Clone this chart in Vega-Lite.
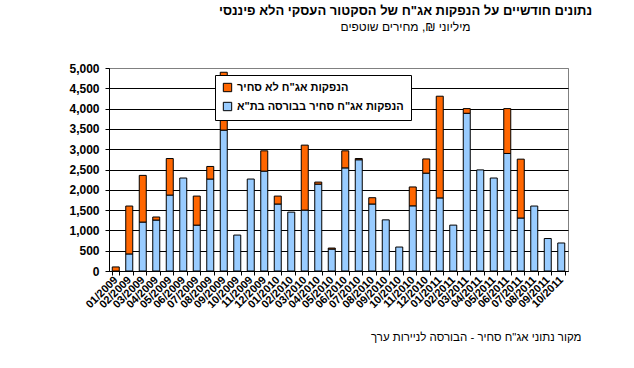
{
  "$schema": "https://vega.github.io/schema/vega-lite/v6.json",
  "width": 459,
  "height": 203,
  "autosize": {"type": "none"},
  "padding": {"left": 109, "top": 68, "right": 66, "bottom": 97},
  "background": "white",
  "title": {
    "text": "נתונים חודשיים על הנפקות אג\"ח של הסקטור העסקי הלא פיננסי",
    "subtitle": "מיליוני ₪, מחירים שוטפים",
    "anchor": "middle",
    "frame": "group",
    "dx": 67,
    "offset": 29,
    "font": "Liberation Sans",
    "fontSize": 13,
    "fontWeight": "bold",
    "color": "black",
    "subtitleFont": "Liberation Sans",
    "subtitleFontSize": 12,
    "subtitleColor": "black",
    "subtitlePadding": 4
  },
  "data": {
    "values": [
      {"month": "01/2009", "series": "הנפקות אג\"ח לא סחיר", "value": 100},
      {"month": "02/2009", "series": "הנפקות אג\"ח סחיר בבורסה בת\"א", "value": 420},
      {"month": "02/2009", "series": "הנפקות אג\"ח לא סחיר", "value": 1180},
      {"month": "03/2009", "series": "הנפקות אג\"ח סחיר בבורסה בת\"א", "value": 1205},
      {"month": "03/2009", "series": "הנפקות אג\"ח לא סחיר", "value": 1150},
      {"month": "04/2009", "series": "הנפקות אג\"ח סחיר בבורסה בת\"א", "value": 1255},
      {"month": "04/2009", "series": "הנפקות אג\"ח לא סחיר", "value": 75},
      {"month": "05/2009", "series": "הנפקות אג\"ח סחיר בבורסה בת\"א", "value": 1870},
      {"month": "05/2009", "series": "הנפקות אג\"ח לא סחיר", "value": 900},
      {"month": "06/2009", "series": "הנפקות אג\"ח סחיר בבורסה בת\"א", "value": 2290},
      {"month": "07/2009", "series": "הנפקות אג\"ח סחיר בבורסה בת\"א", "value": 1130},
      {"month": "07/2009", "series": "הנפקות אג\"ח לא סחיר", "value": 715},
      {"month": "08/2009", "series": "הנפקות אג\"ח סחיר בבורסה בת\"א", "value": 2265},
      {"month": "08/2009", "series": "הנפקות אג\"ח לא סחיר", "value": 310},
      {"month": "09/2009", "series": "הנפקות אג\"ח סחיר בבורסה בת\"א", "value": 3470},
      {"month": "09/2009", "series": "הנפקות אג\"ח לא סחיר", "value": 1425},
      {"month": "10/2009", "series": "הנפקות אג\"ח סחיר בבורסה בת\"א", "value": 885},
      {"month": "11/2009", "series": "הנפקות אג\"ח סחיר בבורסה בת\"א", "value": 2265},
      {"month": "12/2009", "series": "הנפקות אג\"ח סחיר בבורסה בת\"א", "value": 2460},
      {"month": "12/2009", "series": "הנפקות אג\"ח לא סחיר", "value": 500},
      {"month": "01/2010", "series": "הנפקות אג\"ח סחיר בבורסה בת\"א", "value": 1650},
      {"month": "01/2010", "series": "הנפקות אג\"ח לא סחיר", "value": 195},
      {"month": "02/2010", "series": "הנפקות אג\"ח סחיר בבורסה בת\"א", "value": 1450},
      {"month": "03/2010", "series": "הנפקות אג\"ח סחיר בבורסה בת\"א", "value": 1500},
      {"month": "03/2010", "series": "הנפקות אג\"ח לא סחיר", "value": 1600},
      {"month": "04/2010", "series": "הנפקות אג\"ח סחיר בבורסה בת\"א", "value": 2140},
      {"month": "04/2010", "series": "הנפקות אג\"ח לא סחיר", "value": 50},
      {"month": "05/2010", "series": "הנפקות אג\"ח סחיר בבורסה בת\"א", "value": 540},
      {"month": "05/2010", "series": "הנפקות אג\"ח לא סחיר", "value": 25},
      {"month": "06/2010", "series": "הנפקות אג\"ח סחיר בבורסה בת\"א", "value": 2540},
      {"month": "06/2010", "series": "הנפקות אג\"ח לא סחיר", "value": 420},
      {"month": "07/2010", "series": "הנפקות אג\"ח סחיר בבורסה בת\"א", "value": 2740},
      {"month": "07/2010", "series": "הנפקות אג\"ח לא סחיר", "value": 30},
      {"month": "08/2010", "series": "הנפקות אג\"ח סחיר בבורסה בת\"א", "value": 1650},
      {"month": "08/2010", "series": "הנפקות אג\"ח לא סחיר", "value": 155},
      {"month": "09/2010", "series": "הנפקות אג\"ח סחיר בבורסה בת\"א", "value": 1260},
      {"month": "10/2010", "series": "הנפקות אג\"ח סחיר בבורסה בת\"א", "value": 590},
      {"month": "11/2010", "series": "הנפקות אג\"ח סחיר בבורסה בת\"א", "value": 1605},
      {"month": "11/2010", "series": "הנפקות אג\"ח לא סחיר", "value": 465},
      {"month": "12/2010", "series": "הנפקות אג\"ח סחיר בבורסה בת\"א", "value": 2410},
      {"month": "12/2010", "series": "הנפקות אג\"ח לא סחיר", "value": 350},
      {"month": "01/2011", "series": "הנפקות אג\"ח סחיר בבורסה בת\"א", "value": 1800},
      {"month": "01/2011", "series": "הנפקות אג\"ח לא סחיר", "value": 2505},
      {"month": "02/2011", "series": "הנפקות אג\"ח סחיר בבורסה בת\"א", "value": 1130},
      {"month": "03/2011", "series": "הנפקות אג\"ח סחיר בבורסה בת\"א", "value": 3885},
      {"month": "03/2011", "series": "הנפקות אג\"ח לא סחיר", "value": 115},
      {"month": "04/2011", "series": "הנפקות אג\"ח סחיר בבורסה בת\"א", "value": 2490},
      {"month": "05/2011", "series": "הנפקות אג\"ח סחיר בבורסה בת\"א", "value": 2290},
      {"month": "06/2011", "series": "הנפקות אג\"ח סחיר בבורסה בת\"א", "value": 2895},
      {"month": "06/2011", "series": "הנפקות אג\"ח לא סחיר", "value": 1105},
      {"month": "07/2011", "series": "הנפקות אג\"ח סחיר בבורסה בת\"א", "value": 1305},
      {"month": "07/2011", "series": "הנפקות אג\"ח לא סחיר", "value": 1450},
      {"month": "08/2011", "series": "הנפקות אג\"ח סחיר בבורסה בת\"א", "value": 1600},
      {"month": "09/2011", "series": "הנפקות אג\"ח סחיר בבורסה בת\"א", "value": 800},
      {"month": "10/2011", "series": "הנפקות אג\"ח סחיר בבורסה בת\"א", "value": 690}
    ]
  },
  "mark": {"type": "bar", "stroke": "black", "strokeWidth": 1, "width": 7},
  "encoding": {
    "x": {
      "field": "month",
      "type": "ordinal",
      "sort": null,
      "scale": {"domain": ["01/2009","02/2009","03/2009","04/2009","05/2009","06/2009","07/2009","08/2009","09/2009","10/2009","11/2009","12/2009","01/2010","02/2010","03/2010","04/2010","05/2010","06/2010","07/2010","08/2010","09/2010","10/2010","11/2010","12/2010","01/2011","02/2011","03/2011","04/2011","05/2011","06/2011","07/2011","08/2011","09/2011","10/2011"], "paddingInner": 0.45, "paddingOuter": 0.225},
      "axis": {
        "title": "מקור נתוני אג\"ח סחיר - הבורסה לניירות ערך",
        "titleFont": "Liberation Sans",
        "titleFontSize": 11.5,
        "titleFontWeight": "normal",
        "titleColor": "black",
        "titleAnchor": "end",
        "titleAlign": "right",
        "titleBaseline": "bottom",
        "titleX": 472,
        "titleY": 71,
        "tickBand": "extent",
        "tickColor": "black",
        "tickSize": 4,
        "domainColor": "black",
        "labelAngle": -45,
        "labelAlign": "right",
        "labelBaseline": "middle",
        "labelFont": "Liberation Sans",
        "labelFontSize": 11,
        "labelFontWeight": "bold",
        "labelColor": "black",
        "labelPadding": 3,
        "grid": false
      }
    },
    "y": {
      "field": "value",
      "type": "quantitative",
      "stack": "zero",
      "scale": {"domain": [0, 5000], "nice": false},
      "axis": {
        "title": null,
        "values": [0,500,1000,1500,2000,2500,3000,3500,4000,4500,5000],
        "format": ",d",
        "labelFont": "Liberation Sans",
        "labelFontSize": 12,
        "labelFontWeight": "bold",
        "labelColor": "black",
        "tickColor": "black",
        "tickSize": 4,
        "labelPadding": 6,
        "domainColor": "black",
        "grid": true,
        "gridColor": {"condition": {"test": "datum.value == 5000", "value": "#808080"}, "value": "black"},
        "gridOpacity": 1,
        "gridWidth": 1
      }
    },
    "color": {
      "field": "series",
      "type": "nominal",
      "scale": {"domain": ["הנפקות אג\"ח לא סחיר", "הנפקות אג\"ח סחיר בבורסה בת\"א"], "range": ["#FF6600", "#99CCFF"]},
      "legend": {
        "title": null,
        "orient": "none",
        "legendX": 106,
        "legendY": 7,
        "direction": "vertical",
        "fillColor": "white",
        "strokeColor": "black",
        "padding": 7,
        "symbolType": "square",
        "symbolSize": 70,
        "symbolStrokeColor": "black",
        "symbolStrokeWidth": 1,
        "symbolOpacity": 1,
        "labelFont": "Liberation Sans",
        "labelFontSize": 11,
        "labelFontWeight": "bold",
        "labelColor": "black",
        "labelLimit": 300,
        "rowPadding": 6,
        "offset": 0
      }
    },
    "order": {"field": "series", "sort": "descending"}
  },
  "config": {
    "view": {"stroke": "#808080", "strokeWidth": 1}
  }
}
